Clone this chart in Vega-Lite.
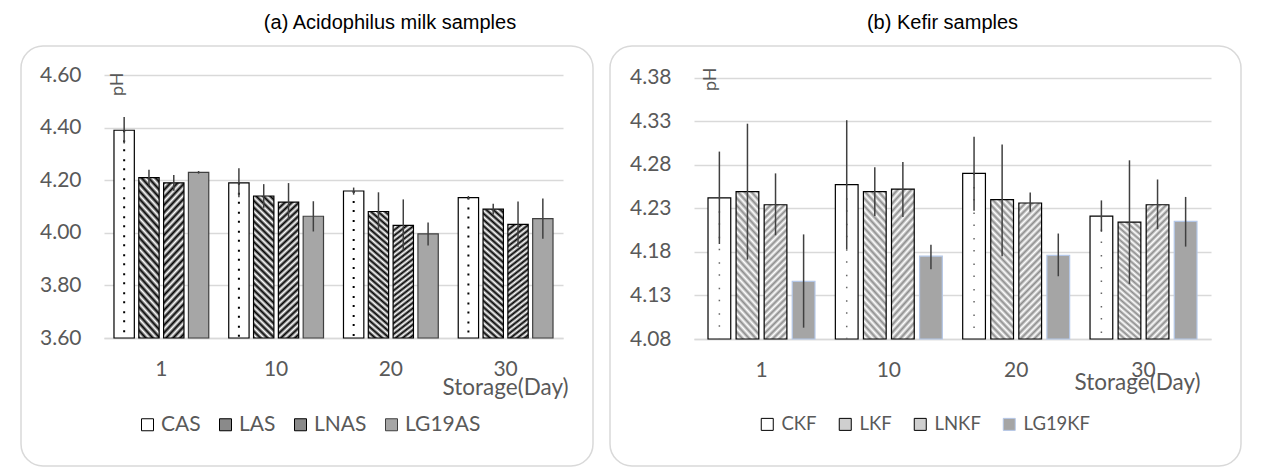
{
"$schema": "https://vega.github.io/schema/vega-lite/v6.json",
"padding": {"left": 20, "top": 12, "right": 0, "bottom": 0},
"spacing": 15,
"datasets": {
"a": [
{"s":"CAS","d":"1","ph":4.39,"lo":4.34,"hi":4.44},
{"s":"LAS","d":"1","ph":4.21,"lo":4.18,"hi":4.24},
{"s":"LNAS","d":"1","ph":4.19,"lo":4.16,"hi":4.22},
{"s":"LG19AS","d":"1","ph":4.23,"lo":4.225,"hi":4.235},
{"s":"CAS","d":"10","ph":4.19,"lo":4.135,"hi":4.245},
{"s":"LAS","d":"10","ph":4.14,"lo":4.095,"hi":4.185},
{"s":"LNAS","d":"10","ph":4.117,"lo":4.049,"hi":4.189},
{"s":"LG19AS","d":"10","ph":4.063,"lo":4.005,"hi":4.12},
{"s":"CAS","d":"20","ph":4.159,"lo":4.145,"hi":4.172},
{"s":"LAS","d":"20","ph":4.081,"lo":4.009,"hi":4.154},
{"s":"LNAS","d":"20","ph":4.028,"lo":3.933,"hi":4.127},
{"s":"LG19AS","d":"20","ph":3.996,"lo":3.952,"hi":4.039},
{"s":"CAS","d":"30","ph":4.134,"lo":4.128,"hi":4.14},
{"s":"LAS","d":"30","ph":4.09,"lo":4.07,"hi":4.11},
{"s":"LNAS","d":"30","ph":4.032,"lo":3.946,"hi":4.119},
{"s":"LG19AS","d":"30","ph":4.054,"lo":3.977,"hi":4.13}
],
"b": [
{"s":"CKF","d":"1","ph":4.242,"lo":4.189,"hi":4.295},
{"s":"LKF","d":"1","ph":4.249,"lo":4.171,"hi":4.327},
{"s":"LNKF","d":"1","ph":4.234,"lo":4.199,"hi":4.27},
{"s":"LG19KF","d":"1","ph":4.146,"lo":4.093,"hi":4.2},
{"s":"CKF","d":"10","ph":4.257,"lo":4.183,"hi":4.331},
{"s":"LKF","d":"10","ph":4.249,"lo":4.221,"hi":4.277},
{"s":"LNKF","d":"10","ph":4.252,"lo":4.22,"hi":4.283},
{"s":"LG19KF","d":"10","ph":4.175,"lo":4.16,"hi":4.188},
{"s":"CKF","d":"20","ph":4.27,"lo":4.227,"hi":4.312},
{"s":"LKF","d":"20","ph":4.24,"lo":4.175,"hi":4.303},
{"s":"LNKF","d":"20","ph":4.236,"lo":4.226,"hi":4.248},
{"s":"LG19KF","d":"20","ph":4.176,"lo":4.152,"hi":4.201},
{"s":"CKF","d":"30","ph":4.221,"lo":4.203,"hi":4.239},
{"s":"LKF","d":"30","ph":4.214,"lo":4.143,"hi":4.285},
{"s":"LNKF","d":"30","ph":4.234,"lo":4.206,"hi":4.263},
{"s":"LG19KF","d":"30","ph":4.215,"lo":4.186,"hi":4.243}
]
},
"hconcat": [
{
"width": 572, "height": 420,
"title": {"text": "(a) Acidophilus milk samples", "dx": 83},
"data": {"name": "a"},
"encoding": {
"x": {"field": "d", "type": "nominal", "sort": ["1","10","20","30"], "scale": {"range": [83, 542], "paddingInner": 0.174, "paddingOuter": 0.087},
 "axis": {"title": "Storage(Day)", "offset": -128, "labelAngle": 0, "labelPadding": 20, "titleX": 547, "titleY": 49, "titleAlign": "right", "titleBaseline": "middle", "titleFontSize": 22.5}},
"xOffset": {"field": "s", "type": "nominal", "sort": ["CAS","LAS","LNAS","LG19AS"], "scale": {"paddingInner": 0.18, "paddingOuter": 0}},
"y": {"field": "ph", "type": "quantitative", "title": "pH", "scale": {"domain": [3.6, 4.6], "range": [292, 29], "zero": false, "nice": false},
  "axis": {"values": [3.6, 3.8, 4.0, 4.2, 4.4, 4.6], "format": ".2f", "offset": -83, "titleX": 13, "titleY": 26, "titleAngle": 270, "titleAlign": "right", "titleBaseline": "middle"}}
},
"layer": [
{"mark": {"type": "bar", "strokeWidth": 1.2},
 "encoding": {
 "y2": {"datum": 3.6},
 "fill": {"field": "s", "type": "nominal", "sort": ["CAS","LAS","LNAS","LG19AS"],
  "condition": [
   {"test": "datum.s === 'LAS'", "value": {"gradient": "linear", "x1": 0, "y1": 1, "x2": 0.16, "y2": -0.14, "stops": [{"offset":0,"color":"#000"},{"offset":0.0208,"color":"#fff"},{"offset":0.0417,"color":"#000"},{"offset":0.0625,"color":"#fff"},{"offset":0.0833,"color":"#000"},{"offset":0.1042,"color":"#fff"},{"offset":0.125,"color":"#000"},{"offset":0.1458,"color":"#fff"},{"offset":0.1667,"color":"#000"},{"offset":0.1875,"color":"#fff"},{"offset":0.2083,"color":"#000"},{"offset":0.2292,"color":"#fff"},{"offset":0.25,"color":"#000"},{"offset":0.2708,"color":"#fff"},{"offset":0.2917,"color":"#000"},{"offset":0.3125,"color":"#fff"},{"offset":0.3333,"color":"#000"},{"offset":0.3542,"color":"#fff"},{"offset":0.375,"color":"#000"},{"offset":0.3958,"color":"#fff"},{"offset":0.4167,"color":"#000"},{"offset":0.4375,"color":"#fff"},{"offset":0.4583,"color":"#000"},{"offset":0.4792,"color":"#fff"},{"offset":0.5,"color":"#000"},{"offset":0.5208,"color":"#fff"},{"offset":0.5417,"color":"#000"},{"offset":0.5625,"color":"#fff"},{"offset":0.5833,"color":"#000"},{"offset":0.6042,"color":"#fff"},{"offset":0.625,"color":"#000"},{"offset":0.6458,"color":"#fff"},{"offset":0.6667,"color":"#000"},{"offset":0.6875,"color":"#fff"},{"offset":0.7083,"color":"#000"},{"offset":0.7292,"color":"#fff"},{"offset":0.75,"color":"#000"},{"offset":0.7708,"color":"#fff"},{"offset":0.7917,"color":"#000"},{"offset":0.8125,"color":"#fff"},{"offset":0.8333,"color":"#000"},{"offset":0.8542,"color":"#fff"},{"offset":0.875,"color":"#000"},{"offset":0.8958,"color":"#fff"},{"offset":0.9167,"color":"#000"},{"offset":0.9375,"color":"#fff"},{"offset":0.9583,"color":"#000"},{"offset":0.9792,"color":"#fff"},{"offset":1,"color":"#000"}]}},
   {"test": "datum.s === 'LNAS'", "value": {"gradient": "linear", "x1": 0, "y1": 0, "x2": 0.16, "y2": 1.14, "stops": [{"offset":0,"color":"#000"},{"offset":0.0208,"color":"#fff"},{"offset":0.0417,"color":"#000"},{"offset":0.0625,"color":"#fff"},{"offset":0.0833,"color":"#000"},{"offset":0.1042,"color":"#fff"},{"offset":0.125,"color":"#000"},{"offset":0.1458,"color":"#fff"},{"offset":0.1667,"color":"#000"},{"offset":0.1875,"color":"#fff"},{"offset":0.2083,"color":"#000"},{"offset":0.2292,"color":"#fff"},{"offset":0.25,"color":"#000"},{"offset":0.2708,"color":"#fff"},{"offset":0.2917,"color":"#000"},{"offset":0.3125,"color":"#fff"},{"offset":0.3333,"color":"#000"},{"offset":0.3542,"color":"#fff"},{"offset":0.375,"color":"#000"},{"offset":0.3958,"color":"#fff"},{"offset":0.4167,"color":"#000"},{"offset":0.4375,"color":"#fff"},{"offset":0.4583,"color":"#000"},{"offset":0.4792,"color":"#fff"},{"offset":0.5,"color":"#000"},{"offset":0.5208,"color":"#fff"},{"offset":0.5417,"color":"#000"},{"offset":0.5625,"color":"#fff"},{"offset":0.5833,"color":"#000"},{"offset":0.6042,"color":"#fff"},{"offset":0.625,"color":"#000"},{"offset":0.6458,"color":"#fff"},{"offset":0.6667,"color":"#000"},{"offset":0.6875,"color":"#fff"},{"offset":0.7083,"color":"#000"},{"offset":0.7292,"color":"#fff"},{"offset":0.75,"color":"#000"},{"offset":0.7708,"color":"#fff"},{"offset":0.7917,"color":"#000"},{"offset":0.8125,"color":"#fff"},{"offset":0.8333,"color":"#000"},{"offset":0.8542,"color":"#fff"},{"offset":0.875,"color":"#000"},{"offset":0.8958,"color":"#fff"},{"offset":0.9167,"color":"#000"},{"offset":0.9375,"color":"#fff"},{"offset":0.9583,"color":"#000"},{"offset":0.9792,"color":"#fff"},{"offset":1,"color":"#000"}]}}
  ],
  "scale": {"domain": ["CAS","LAS","LNAS","LG19AS"], "range": ["#ffffff", "#8a8a8a", "#8a8a8a", "#a6a6a6"]},
  "legend": {"orient": "none", "legendX": 116, "legendY": 368, "direction": "horizontal", "title": null, "labelFontSize": 21}},
 "stroke": {"field": "s", "type": "nominal", "sort": ["CAS","LAS","LNAS","LG19AS"],
  "scale": {"domain": ["CAS","LAS","LNAS","LG19AS"], "range": ["#000000","#000000","#000000","#3f3f3f"]},
  "legend": {"orient": "none", "legendX": 116, "legendY": 368, "direction": "horizontal", "title": null, "labelFontSize": 21}}
 }},
{"transform": [{"filter": "datum.s === 'CAS'"}],
 "mark": {"type": "rule", "color": "#000000", "strokeWidth": 2, "strokeDash": [2, 17]},
 "encoding": {"xOffset": {"field": "s", "type": "nominal", "sort": ["CAS","LAS","LNAS","LG19AS"], "bandPosition": 0.27}, "y2": {"datum": 3.6}}},
{"transform": [{"filter": "datum.s === 'CAS'"}],
 "mark": {"type": "rule", "color": "#000000", "strokeWidth": 2, "strokeDash": [2, 17], "strokeDashOffset": 9},
 "encoding": {"xOffset": {"field": "s", "type": "nominal", "sort": ["CAS","LAS","LNAS","LG19AS"], "bandPosition": 0.73}, "y2": {"datum": 3.6}}},
{"mark": {"type": "rule", "color": "#404040", "strokeWidth": 1.5},
 "encoding": {"y": {"field": "lo", "type": "quantitative", "title": "pH"}, "y2": {"field": "hi"}}}
]
},
{
"width": 631, "height": 420,
"title": {"text": "(b) Kefir samples", "dx": 17},
"data": {"name": "b"},
"encoding": {
"x": {"field": "d", "type": "nominal", "sort": ["1","10","20","30"], "scale": {"range": [84, 601], "paddingInner": 0.16, "paddingOuter": 0.11},
 "axis": {"title": "Storage(Day)", "offset": -127, "labelAngle": 0, "labelPadding": 20, "titleX": 590, "titleY": 43, "titleAlign": "right", "titleBaseline": "middle", "titleFontSize": 22.5}},
"xOffset": {"field": "s", "type": "nominal", "sort": ["CKF","LKF","LNKF","LG19KF"], "scale": {"paddingInner": 0.19, "paddingOuter": 0}},
"y": {"field": "ph", "type": "quantitative", "title": "pH", "scale": {"domain": [4.08, 4.38], "range": [293, 31.5], "zero": false, "nice": false},
  "axis": {"values": [4.08, 4.13, 4.18, 4.23, 4.28, 4.33, 4.38], "format": ".2f", "offset": -84, "titleX": 16, "titleY": 21, "titleAngle": 270, "titleAlign": "right", "titleBaseline": "middle"}}
},
"layer": [
{"mark": {"type": "bar", "strokeWidth": 1.2},
 "encoding": {
 "y2": {"datum": 4.08},
 "fill": {"field": "s", "type": "nominal", "sort": ["CKF","LKF","LNKF","LG19KF"],
  "condition": [
   {"test": "datum.s === 'LKF'", "value": {"gradient": "linear", "x1": 0, "y1": 1, "x2": 0.2, "y2": -0.18, "stops": [{"offset":0,"color":"#8c8c8c"},{"offset":0.0208,"color":"#fff"},{"offset":0.0417,"color":"#8c8c8c"},{"offset":0.0625,"color":"#fff"},{"offset":0.0833,"color":"#8c8c8c"},{"offset":0.1042,"color":"#fff"},{"offset":0.125,"color":"#8c8c8c"},{"offset":0.1458,"color":"#fff"},{"offset":0.1667,"color":"#8c8c8c"},{"offset":0.1875,"color":"#fff"},{"offset":0.2083,"color":"#8c8c8c"},{"offset":0.2292,"color":"#fff"},{"offset":0.25,"color":"#8c8c8c"},{"offset":0.2708,"color":"#fff"},{"offset":0.2917,"color":"#8c8c8c"},{"offset":0.3125,"color":"#fff"},{"offset":0.3333,"color":"#8c8c8c"},{"offset":0.3542,"color":"#fff"},{"offset":0.375,"color":"#8c8c8c"},{"offset":0.3958,"color":"#fff"},{"offset":0.4167,"color":"#8c8c8c"},{"offset":0.4375,"color":"#fff"},{"offset":0.4583,"color":"#8c8c8c"},{"offset":0.4792,"color":"#fff"},{"offset":0.5,"color":"#8c8c8c"},{"offset":0.5208,"color":"#fff"},{"offset":0.5417,"color":"#8c8c8c"},{"offset":0.5625,"color":"#fff"},{"offset":0.5833,"color":"#8c8c8c"},{"offset":0.6042,"color":"#fff"},{"offset":0.625,"color":"#8c8c8c"},{"offset":0.6458,"color":"#fff"},{"offset":0.6667,"color":"#8c8c8c"},{"offset":0.6875,"color":"#fff"},{"offset":0.7083,"color":"#8c8c8c"},{"offset":0.7292,"color":"#fff"},{"offset":0.75,"color":"#8c8c8c"},{"offset":0.7708,"color":"#fff"},{"offset":0.7917,"color":"#8c8c8c"},{"offset":0.8125,"color":"#fff"},{"offset":0.8333,"color":"#8c8c8c"},{"offset":0.8542,"color":"#fff"},{"offset":0.875,"color":"#8c8c8c"},{"offset":0.8958,"color":"#fff"},{"offset":0.9167,"color":"#8c8c8c"},{"offset":0.9375,"color":"#fff"},{"offset":0.9583,"color":"#8c8c8c"},{"offset":0.9792,"color":"#fff"},{"offset":1,"color":"#8c8c8c"}]}},
   {"test": "datum.s === 'LNKF'", "value": {"gradient": "linear", "x1": 0, "y1": 0, "x2": 0.2, "y2": 1.18, "stops": [{"offset":0,"color":"#8c8c8c"},{"offset":0.0208,"color":"#fff"},{"offset":0.0417,"color":"#8c8c8c"},{"offset":0.0625,"color":"#fff"},{"offset":0.0833,"color":"#8c8c8c"},{"offset":0.1042,"color":"#fff"},{"offset":0.125,"color":"#8c8c8c"},{"offset":0.1458,"color":"#fff"},{"offset":0.1667,"color":"#8c8c8c"},{"offset":0.1875,"color":"#fff"},{"offset":0.2083,"color":"#8c8c8c"},{"offset":0.2292,"color":"#fff"},{"offset":0.25,"color":"#8c8c8c"},{"offset":0.2708,"color":"#fff"},{"offset":0.2917,"color":"#8c8c8c"},{"offset":0.3125,"color":"#fff"},{"offset":0.3333,"color":"#8c8c8c"},{"offset":0.3542,"color":"#fff"},{"offset":0.375,"color":"#8c8c8c"},{"offset":0.3958,"color":"#fff"},{"offset":0.4167,"color":"#8c8c8c"},{"offset":0.4375,"color":"#fff"},{"offset":0.4583,"color":"#8c8c8c"},{"offset":0.4792,"color":"#fff"},{"offset":0.5,"color":"#8c8c8c"},{"offset":0.5208,"color":"#fff"},{"offset":0.5417,"color":"#8c8c8c"},{"offset":0.5625,"color":"#fff"},{"offset":0.5833,"color":"#8c8c8c"},{"offset":0.6042,"color":"#fff"},{"offset":0.625,"color":"#8c8c8c"},{"offset":0.6458,"color":"#fff"},{"offset":0.6667,"color":"#8c8c8c"},{"offset":0.6875,"color":"#fff"},{"offset":0.7083,"color":"#8c8c8c"},{"offset":0.7292,"color":"#fff"},{"offset":0.75,"color":"#8c8c8c"},{"offset":0.7708,"color":"#fff"},{"offset":0.7917,"color":"#8c8c8c"},{"offset":0.8125,"color":"#fff"},{"offset":0.8333,"color":"#8c8c8c"},{"offset":0.8542,"color":"#fff"},{"offset":0.875,"color":"#8c8c8c"},{"offset":0.8958,"color":"#fff"},{"offset":0.9167,"color":"#8c8c8c"},{"offset":0.9375,"color":"#fff"},{"offset":0.9583,"color":"#8c8c8c"},{"offset":0.9792,"color":"#fff"},{"offset":1,"color":"#8c8c8c"}]}}
  ],
  "scale": {"domain": ["CKF","LKF","LNKF","LG19KF"], "range": ["#ffffff", "#cfcfcf", "#cfcfcf", "#a5a5a5"]},
  "legend": {"orient": "none", "legendX": 148, "legendY": 369, "direction": "horizontal", "title": null, "labelFontSize": 18.5, "columnPadding": 19, "labelOffset": 5}},
 "stroke": {"field": "s", "type": "nominal", "sort": ["CKF","LKF","LNKF","LG19KF"],
  "scale": {"domain": ["CKF","LKF","LNKF","LG19KF"], "range": ["#000000","#000000","#000000","#b4c7e7"]},
  "legend": {"orient": "none", "legendX": 148, "legendY": 369, "direction": "horizontal", "title": null, "labelFontSize": 18.5, "columnPadding": 19, "labelOffset": 5}}
 }},
{"transform": [{"filter": "datum.s === 'CKF'"}],
 "mark": {"type": "rule", "color": "#666666", "strokeWidth": 1.5, "strokeDash": [1.5, 24]},
 "encoding": {"xOffset": {"field": "s", "type": "nominal", "sort": ["CKF","LKF","LNKF","LG19KF"], "bandPosition": 0.27}, "y2": {"datum": 4.08}}},
{"transform": [{"filter": "datum.s === 'CKF'"}],
 "mark": {"type": "rule", "color": "#666666", "strokeWidth": 1.5, "strokeDash": [1.5, 24], "strokeDashOffset": 12},
 "encoding": {"xOffset": {"field": "s", "type": "nominal", "sort": ["CKF","LKF","LNKF","LG19KF"], "bandPosition": 0.73}, "y2": {"datum": 4.08}}},
{"mark": {"type": "rule", "color": "#404040", "strokeWidth": 1.5},
 "encoding": {"y": {"field": "lo", "type": "quantitative", "title": "pH"}, "y2": {"field": "hi"}}}
]
}
],
"resolve": {"scale": {"x": "independent", "y": "independent", "xOffset": "independent", "fill": "independent", "stroke": "independent"}, "legend": {"fill": "independent", "stroke": "independent"}, "axis": {"x": "independent", "y": "independent"}},
"config": {
"font": "Lato",
"view": {"stroke": "#d9d9d9", "strokeWidth": 1.5, "cornerRadius": 22},
"title": {"font": "Liberation Sans", "fontSize": 20, "fontWeight": "normal", "color": "#000000", "offset": 13},
"axis": {"labelFont": "Lato", "labelFontSize": 21, "labelColor": "#595959", "titleFont": "Lato", "titleFontSize": 21, "titleColor": "#595959", "titleFontWeight": "normal", "ticks": false, "tickSize": 0, "gridColor": "#d9d9d9", "gridWidth": 1.5, "domainColor": "#d9d9d9", "domainWidth": 1.5},
"axisY": {"domain": false, "grid": true, "labelPadding": 23, "titleFontSize": 18},
"axisX": {"grid": false},
"legend": {"labelFont": "Lato", "labelFontSize": 21, "labelColor": "#595959", "symbolType": "square", "symbolSize": 144, "symbolStrokeWidth": 1, "labelOffset": 3, "columnPadding": 14}
}
}
